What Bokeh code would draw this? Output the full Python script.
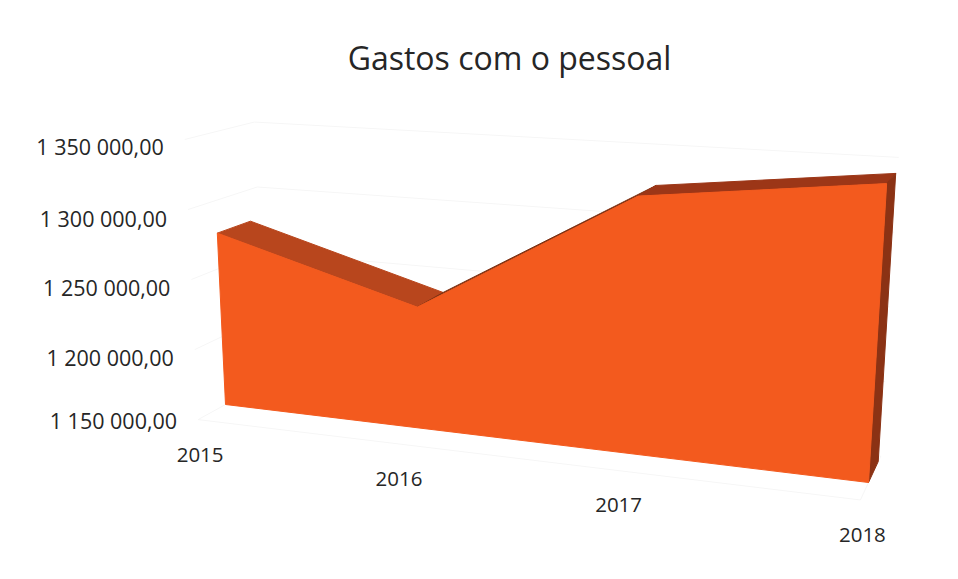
from bokeh.core.properties import value
from bokeh.embed import file_html
from bokeh.models import Range1d
from bokeh.plotting import figure
from bokeh.resources import INLINE

# Chart data
years = ["2015", "2016", "2017", "2018"]
staff_costs = [1276000, 1235000, 1323000, 1341000]
axis_ticks = [1350000, 1300000, 1250000, 1200000, 1150000]
axis_labels = ["1 350 000,00", "1 300 000,00", "1 250 000,00", "1 200 000,00", "1 150 000,00"]
chart_title = "Gastos com o pessoal"

# 3D scene: corners of the series' front face on the page, vanishing point of the depth axis
AXIS_MIN, AXIS_MAX = 1150000, 1350000
BOTTOM_LEFT, TOP_LEFT = (225, 404), (212, 132)
BOTTOM_RIGHT, TOP_RIGHT = (868, 482), (887, 169)
VANISH = (1138, -100)
FORESHORTEN = 1.165
SERIES_BACK = 0.036
WALL_BACK = 0.045
FLOOR_FRONT = -0.03

FACE = "#F35A1E"
ROOF_DOWN = "#B8461D"
ROOF_UP = "#7F3112"
ROOF_FLAT = "#9C3617"
SIDE = "#8B3214"
GRID = "#F6F6F6"
TEXT = "#262626"


def project(t, val, depth=0.0):
    """Map a category position (0..1), a value and a depth to page coordinates."""
    s = t / (FORESHORTEN + (1 - FORESHORTEN) * t)
    v = (val - AXIS_MIN) / (AXIS_MAX - AXIS_MIN)
    bx = BOTTOM_LEFT[0] + (BOTTOM_RIGHT[0] - BOTTOM_LEFT[0]) * s
    by = BOTTOM_LEFT[1] + (BOTTOM_RIGHT[1] - BOTTOM_LEFT[1]) * s
    tx = TOP_LEFT[0] + (TOP_RIGHT[0] - TOP_LEFT[0]) * s
    ty = TOP_LEFT[1] + (TOP_RIGHT[1] - TOP_LEFT[1]) * s
    x = bx + (tx - bx) * v
    y = by + (ty - by) * v
    return x + depth * (VANISH[0] - x), y + depth * (VANISH[1] - y)


def polyline(points):
    return [pt[0] for pt in points], [pt[1] for pt in points]


p = figure(width=958, height=579, output_backend="svg", toolbar_location=None,
           x_range=Range1d(0, 958), y_range=Range1d(579, 0), min_border=0)
p.axis.visible = False
p.grid.visible = False
p.outline_line_color = None
p.background_fill_color = "white"

# Walls and floor gridlines
for tick in axis_ticks:
    pts = [project(0, tick, FLOOR_FRONT), project(0, tick, WALL_BACK), project(1, tick, WALL_BACK)]
    xs, ys = polyline(pts)
    p.line(xs, ys, line_color=GRID, line_width=1)
xs, ys = polyline([project(0, AXIS_MIN, FLOOR_FRONT), project(1, AXIS_MIN, FLOOR_FRONT),
                   project(1, AXIS_MIN, WALL_BACK)])
p.line(xs, ys, line_color=GRID, line_width=1)

positions = [i / (len(years) - 1) for i in range(len(years))]

# Roof of the area, one facet per interval
for i in range(len(years) - 1):
    a, b = positions[i], positions[i + 1]
    va, vb = staff_costs[i], staff_costs[i + 1]
    rise = vb - va
    colour = ROOF_DOWN if rise < 0 else (ROOF_UP if rise > 50000 else ROOF_FLAT)
    xs, ys = polyline([project(a, va), project(b, vb),
                       project(b, vb, SERIES_BACK), project(a, va, SERIES_BACK)])
    p.patch(xs, ys, fill_color=colour, line_color=colour, line_width=1)

# Right-hand end cap
xs, ys = polyline([project(1, staff_costs[-1]), project(1, staff_costs[-1], SERIES_BACK),
                   project(1, AXIS_MIN, SERIES_BACK), project(1, AXIS_MIN)])
p.patch(xs, ys, fill_color=SIDE, line_color=SIDE, line_width=1)

# Front face
front = [project(t, val) for t, val in zip(positions, staff_costs)]
front += [project(1, AXIS_MIN), project(0, AXIS_MIN)]
xs, ys = polyline(front)
p.patch(xs, ys, fill_color=FACE, line_color=FACE, line_width=1)

# Value axis labels
label_nudge = [-1, 1, 0, 0, -7]
for tick, label, nudge in zip(axis_ticks, axis_labels, label_nudge):
    x, y = project(0, tick, FLOOR_FRONT)
    p.text([x - 21], [y + 8 + nudge], text=[label], text_font=value("Open Sans"),
           text_font_size="21.5px", text_color=TEXT, text_align="right", text_baseline="middle")

# Category labels
for t, year in zip(positions, years):
    x, y = project(t, AXIS_MIN, FLOOR_FRONT)
    p.text([x + 2], [y + 35], text=[year], text_font=value("Open Sans"),
           text_font_size="20.5px", text_color=TEXT, text_align="center", text_baseline="middle")

# Title
p.text([509], [57], text=[chart_title], text_font=value("Open Sans"),
       text_font_size="32px", text_color=TEXT, text_align="center", text_baseline="middle")

open("out.html", "w").write(file_html(p, INLINE))
